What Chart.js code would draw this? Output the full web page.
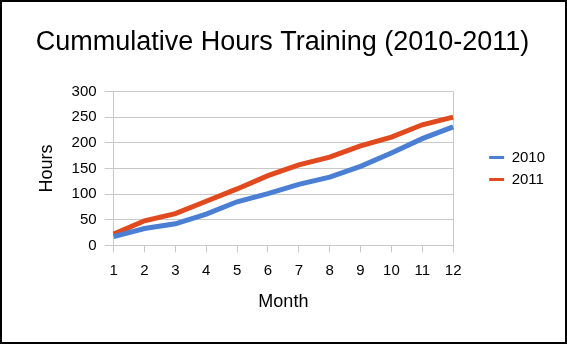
<!DOCTYPE html>
<html>
<head>
<meta charset="utf-8">
<script src="https://cdn.jsdelivr.net/npm/chart.js@4.4.0/dist/chart.umd.min.js"></script>
<style>
  html, body { margin: 0; padding: 0; background: #fff; }
  #wrap { width: 567px; height: 344px; box-sizing: border-box; border: 2px solid #000; }
  #chart { display: block; }
</style>
</head>
<body>
<div id="wrap"><canvas id="chart" width="563" height="340"></canvas></div>
<script>
const months = ['1', '2', '3', '4', '5', '6', '7', '8', '9', '10', '11', '12'];
const hours2010 = [17, 33, 42, 61, 85, 101, 119, 133, 154, 180, 208, 231];
const hours2011 = [22, 48, 62, 86, 110, 136, 157, 172, 194, 211, 235, 250];
const yTicks = [0, 50, 100, 150, 200, 250, 300];

const font = '"Liberation Sans", Arial, sans-serif';
const gridGray = '#c8c8c8';

// make the legend box wider than its items, and push the items right,
// so the plot area ends well before the legend like in the original
const legendExtra = 31;
const legendShift = 29;
const legendSpacer = {
  id: 'legendSpacer',
  afterInit(chart) {
    const legend = chart.legend;
    const fit = legend.fit;
    legend.fit = function () {
      fit.call(this);
      this.width += legendExtra;
    };
  },
  afterLayout(chart) {
    chart.legend.left += legendShift;
  },
};

const ctx = document.getElementById('chart');
new Chart(ctx, {
  type: 'line',
  data: {
    labels: months,
    datasets: [
      {
        label: '2010',
        data: hours2010,
        borderColor: '#4a7fd4',
        backgroundColor: '#4a7fd4',
        borderWidth: 5,
        pointRadius: 0,
        tension: 0,
        fill: false,
      },
      {
        label: '2011',
        data: hours2011,
        borderColor: '#e04a1e',
        backgroundColor: '#e04a1e',
        borderWidth: 5,
        pointRadius: 0,
        tension: 0,
        fill: false,
      },
    ],
  },
  plugins: [legendSpacer],
  options: {
    responsive: false,
    animation: false,
    layout: { padding: { top: 0, left: 6, right: 8, bottom: 25 } },
    scales: {
      x: {
        offset: false,
        grid: {
          color: (c) => (c.index === 0 || c.index === months.length - 1 ? gridGray : 'rgba(0,0,0,0)'),
          tickColor: gridGray,
          tickLength: 7,
        },
        border: { color: gridGray },
        ticks: { color: '#000', font: { family: font, size: 15 }, maxRotation: 0, padding: 9 },
        title: { display: true, text: 'Month', color: '#000', font: { family: font, size: 18 }, padding: { top: 3 } },
      },
      y: {
        min: 0,
        max: 300,
        afterBuildTicks: (axis) => { axis.ticks = yTicks.map((v) => ({ value: v })); },
        grid: { color: gridGray, tickLength: 9, tickColor: gridGray },
        border: { color: gridGray },
        ticks: { color: '#000', font: { family: font, size: 15 }, padding: 8 },
        title: { display: true, text: 'Hours', color: '#000', font: { family: font, size: 18 }, padding: { top: 28, bottom: 6 } },
      },
    },
    plugins: {
      title: {
        display: true,
        text: 'Cummulative Hours Training (2010-2011)',
        color: '#000',
        font: { family: font, size: 27, weight: 'normal' },
        padding: { top: 24, bottom: 33 },
      },
      legend: {
        display: true,
        position: 'right',
        fullSize: false,
        labels: {
          color: '#000',
          font: { family: font, size: 15 },
          boxWidth: 15,
          boxHeight: 3,
          padding: 7,
          generateLabels: (chart) => Chart.defaults.plugins.legend.labels.generateLabels(chart)
            .map((item) => ({ ...item, lineWidth: 0 })),
        },
      },
      tooltip: { enabled: false },
    },
  },
});
</script>
</body>
</html>
